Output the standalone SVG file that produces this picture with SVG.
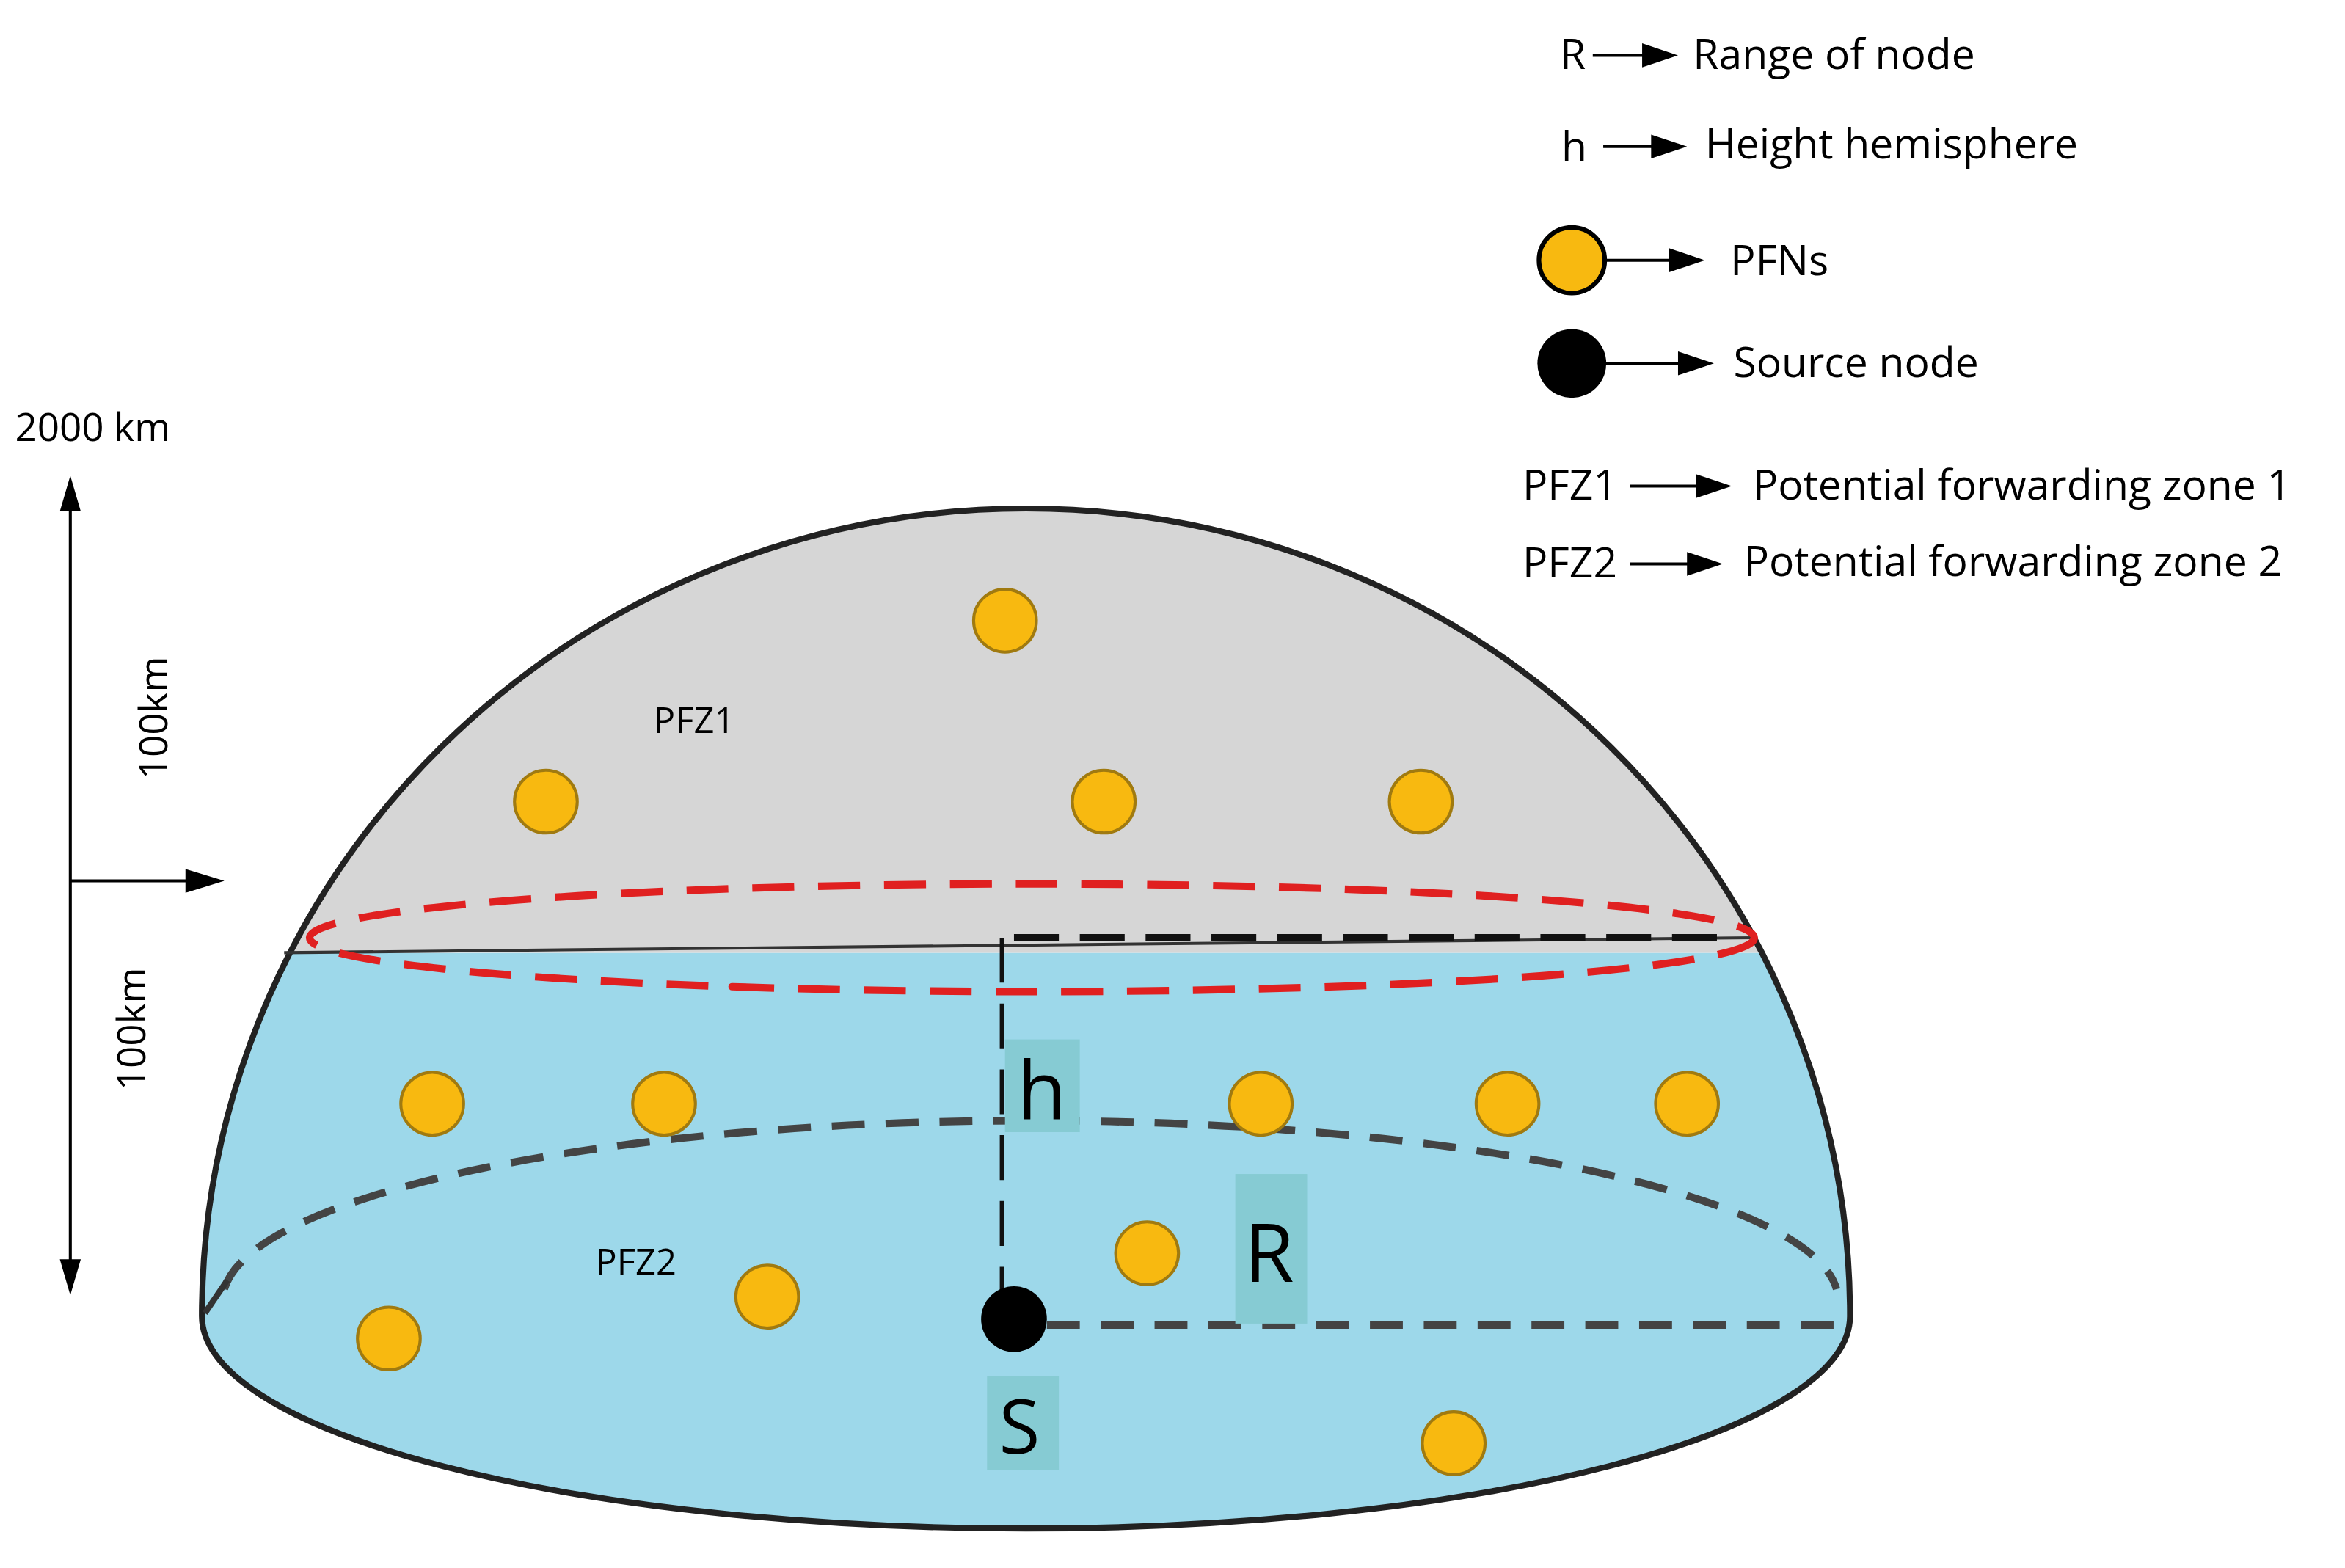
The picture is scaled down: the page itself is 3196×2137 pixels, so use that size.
<svg xmlns="http://www.w3.org/2000/svg" width="3196" height="2137" viewBox="0 0 3196 2137">
<defs>
<style>
text{font-family:"Open Sans","Liberation Sans",sans-serif;fill:#000}
.lg{font-size:28px}
.pfn{fill:#f8b910;stroke:#a07a10;stroke-width:2}
.ar{stroke:#000;stroke-width:2;fill:none}
</style>
<clipPath id="top"><rect x="0" y="0" width="1568" height="637"/></clipPath>
<clipPath id="bot"><rect x="0" y="637" width="1568" height="500"/></clipPath>
</defs>
<rect width="3196" height="2137" fill="#fff"/>
<g transform="scale(2.0383)">
<g id="dome">
<path d="M135,880 A551,540 0 0 1 1237,880 A551,142 0 0 1 135,880 Z" fill="#9dd8ea" clip-path="url(#bot)"/>
<path d="M135,880 A551,540 0 0 1 1237,880 A551,142 0 0 1 135,880 Z" fill="#d6d6d6" clip-path="url(#top)"/>
<path d="M135,880 A551,540 0 0 1 1237,880 A551,142 0 0 1 135,880 Z" fill="none" stroke="#222" stroke-width="4"/>
<line x1="190" y1="637" x2="1173" y2="627" stroke="#333" stroke-width="2"/>
<ellipse cx="690" cy="627" rx="483" ry="36" fill="none" stroke="#e02020" stroke-width="5" stroke-dasharray="28,16"/>
<path d="M150,862 A540,120 0 0 1 1228,862" fill="none" stroke="#444" stroke-width="5" stroke-dasharray="22,14"/>
<line x1="137" y1="878" x2="152" y2="856" stroke="#333" stroke-width="4"/>
</g>
<g id="connectors">
<line x1="670" y1="627" x2="670" y2="870" stroke="#111" stroke-width="3" stroke-dasharray="30,14"/>
<line x1="678" y1="627" x2="1160" y2="627" stroke="#111" stroke-width="5" stroke-dasharray="30,14"/>
<line x1="700" y1="886" x2="1237" y2="886" stroke="#444" stroke-width="5" stroke-dasharray="22,14"/>
<line x1="47" y1="340" x2="47" y2="845" class="ar"/>
<path d="M47,318L40,342L54,342z M47,866L40,842L54,842z M150,589L124,581L124,597z" fill="#000"/>
<line x1="47" y1="589" x2="126" y2="589" class="ar"/>
<line x1="1065" y1="37" x2="1100" y2="37" class="ar"/><path d="M1122,37L1098,29L1098,45z"/>
<line x1="1072" y1="98" x2="1106" y2="98" class="ar"/><path d="M1128,98L1104,90L1104,106z"/>
<line x1="1073" y1="174" x2="1118" y2="174" class="ar"/><path d="M1140,174L1116,166L1116,182z"/>
<line x1="1073" y1="243" x2="1124" y2="243" class="ar"/><path d="M1146,243L1122,235L1122,251z"/>
<line x1="1090" y1="325" x2="1136" y2="325" class="ar"/><path d="M1158,325L1134,317L1134,333z"/>
<line x1="1090" y1="377" x2="1130" y2="377" class="ar"/><path d="M1152,377L1128,369L1128,385z"/>
</g>
<g id="labels">
<rect x="672" y="695" width="50" height="62" fill="#86cbd3"/>
<rect x="826" y="785" width="48" height="100" fill="#86cbd3"/>
<rect x="660" y="920" width="48" height="63" fill="#86cbd3"/>
<text x="680" y="748" font-size="54">h</text>
<text x="832" y="857" font-size="54">R</text>
<text x="668" y="972" font-size="50">S</text>
<text x="437" y="490" font-size="24">PFZ1</text>
<text x="398" y="852" font-size="24">PFZ2</text>
<text x="10" y="295" font-size="26">2000 km</text>
<text transform="translate(112,480) rotate(-90)" text-anchor="middle" font-size="26">100km</text>
<text transform="translate(97,688) rotate(-90)" text-anchor="middle" font-size="26">100km</text>
</g>
<g id="nodes">
<circle class="pfn" cx="672" cy="415" r="21"/>
<circle class="pfn" cx="365" cy="536" r="21"/>
<circle class="pfn" cx="738" cy="536" r="21"/>
<circle class="pfn" cx="950" cy="536" r="21"/>
<circle class="pfn" cx="289" cy="738" r="21"/>
<circle class="pfn" cx="444" cy="738" r="21"/>
<circle class="pfn" cx="843" cy="738" r="21"/>
<circle class="pfn" cx="1008" cy="738" r="21"/>
<circle class="pfn" cx="1128" cy="738" r="21"/>
<circle class="pfn" cx="767" cy="838" r="21"/>
<circle class="pfn" cx="513" cy="867" r="21"/>
<circle class="pfn" cx="260" cy="895" r="21"/>
<circle class="pfn" cx="972" cy="965" r="21"/>
<circle cx="678" cy="882" r="22" fill="#000"/>
</g>
<g id="legend">
<text class="lg" x="1043" y="46">R</text>
<text class="lg" x="1132" y="46">Range of node</text>
<text class="lg" x="1044" y="108">h</text>
<text class="lg" x="1140" y="106">Height hemisphere</text>
<circle cx="1051" cy="174" r="22" fill="#f8b910" stroke="#000" stroke-width="3"/>
<text class="lg" x="1157" y="184">PFNs</text>
<circle cx="1051" cy="243" r="23" fill="#000"/>
<text class="lg" x="1159" y="252">Source node</text>
<text class="lg" x="1018" y="334">PFZ1</text>
<text class="lg" x="1172" y="334">Potential forwarding zone 1</text>
<text class="lg" x="1018" y="386">PFZ2</text>
<text class="lg" x="1166" y="385">Potential forwarding zone 2</text>
</g>
</g>
</svg>
